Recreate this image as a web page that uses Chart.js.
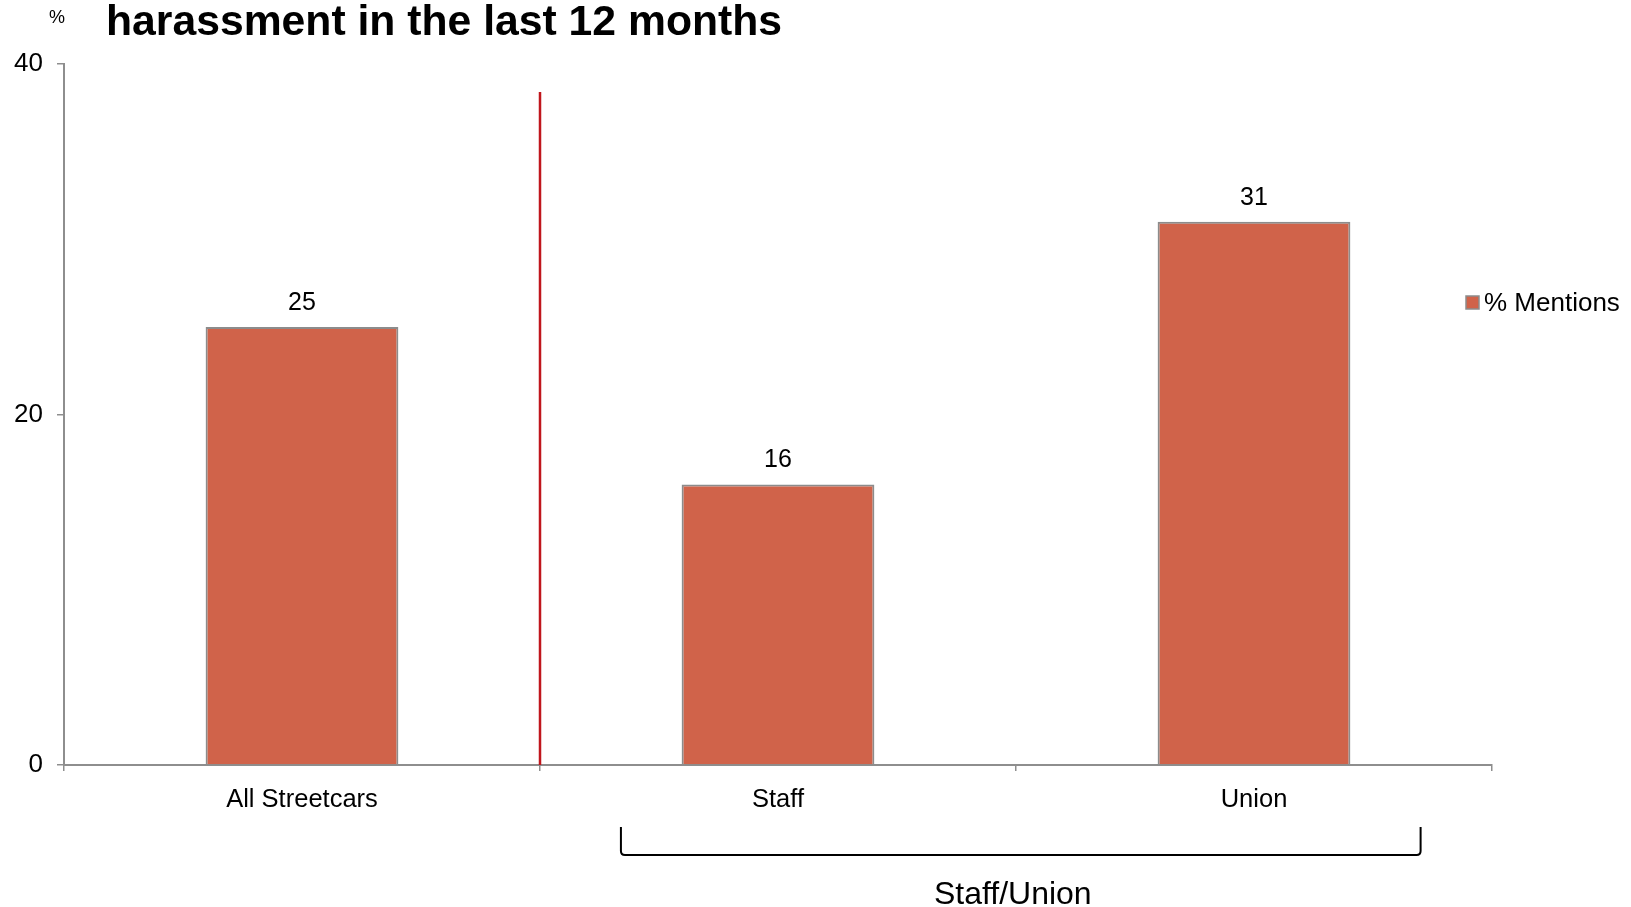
<!DOCTYPE html>
<html>
<head>
<meta charset="utf-8">
<script src="https://cdn.jsdelivr.net/npm/chart.js@4.4.1/dist/chart.umd.min.js"></script>
<style>
  html, body { margin: 0; padding: 0; background: #fff; }
  #wrap { position: relative; width: 1631px; height: 907px; }
</style>
</head>
<body>
<div id="wrap"><canvas id="chart"></canvas></div>
<script>
// categories and values
const categories = ["All Streetcars", "Staff", "Union"];
const mentions = [25, 16, 31];
const seriesLabel = "% Mentions";
const yTicks = [0, 20, 40];
const groupLabel = "Staff/Union";
const titleText = "harassment in the last 12 months";
const dividerTop = 38.4; // top of the red separator, in axis units

const FONT = "'Liberation Sans', Arial, sans-serif";
const BAR_FILL = "#D0634A";
const BAR_EDGE = "#8C8C8C";
const AXIS = "#8E8E8E";

// title, separator, value labels, bracket and legend
const extras = {
  id: "extras",
  afterDraw(chart) {
    const ctx = chart.ctx;
    const x = chart.scales.x;
    const y = chart.scales.y;
    const area = chart.chartArea;
    ctx.save();

    // title
    ctx.fillStyle = "#000";
    ctx.textBaseline = "alphabetic";
    ctx.textAlign = "left";
    ctx.font = "bold 42.7px " + FONT;
    ctx.fillText(titleText, 106, 35);
    ctx.font = "18px " + FONT;
    ctx.textBaseline = "middle";
    ctx.fillText("%", 49, 18);

    // red separator between first and second category
    const sepX = (x.getPixelForValue(0) + x.getPixelForValue(1)) / 2;
    ctx.strokeStyle = "#C0161C";
    ctx.lineWidth = 2.5;
    ctx.beginPath();
    ctx.moveTo(sepX, y.getPixelForValue(dividerTop));
    ctx.lineTo(sepX, y.getPixelForValue(0));
    ctx.stroke();

    // value labels
    ctx.font = "25px " + FONT;
    ctx.textAlign = "center";
    ctx.textBaseline = "middle";
    chart.getDatasetMeta(0).data.forEach((bar, i) => {
      ctx.fillText(String(mentions[i]), bar.x, bar.y - 24);
    });

    // bracket under Staff / Union
    const step = x.getPixelForValue(1) - x.getPixelForValue(0);
    const bl = x.getPixelForValue(1) - 0.33 * step;
    const br = x.getPixelForValue(2) + 0.35 * step;
    const bt = area.bottom + 62, bb = area.bottom + 90, r = 4;
    ctx.strokeStyle = "#000";
    ctx.lineWidth = 2;
    ctx.beginPath();
    ctx.moveTo(bl, bt);
    ctx.lineTo(bl, bb - r);
    ctx.quadraticCurveTo(bl, bb, bl + r, bb);
    ctx.lineTo(br - r, bb);
    ctx.quadraticCurveTo(br, bb, br, bb - r);
    ctx.lineTo(br, bt);
    ctx.stroke();
    ctx.font = "32px " + FONT;
    ctx.fillText(groupLabel, (bl + br) / 2 - 8, area.bottom + 130);

    // legend
    ctx.fillStyle = BAR_FILL;
    ctx.fillRect(1466, 296, 13, 13);
    ctx.strokeStyle = BAR_EDGE;
    ctx.lineWidth = 1.5;
    ctx.strokeRect(1466, 296, 13, 13);
    ctx.fillStyle = "#000";
    ctx.textAlign = "left";
    ctx.font = "26px " + FONT;
    ctx.fillText(seriesLabel, 1484, 304);

    ctx.restore();
  }
};

new Chart(document.getElementById("chart"), {
  type: "bar",
  data: {
    labels: categories,
    datasets: [{
      label: seriesLabel,
      data: mentions,
      backgroundColor: BAR_FILL,
      borderColor: BAR_EDGE,
      borderWidth: 2,
      barPercentage: 0.405,
      categoryPercentage: 1
    }]
  },
  options: {
    responsive: true,
    maintainAspectRatio: false,
    animation: false,
    layout: { padding: { top: 64, right: 139, left: 0, bottom: 0 } },
    plugins: {
      legend: { display: false },
      tooltip: { enabled: false },
      title: { display: false }
    },
    scales: {
      x: {
        offset: true,
        grid: {
          offset: true,
          drawOnChartArea: false,
          color: AXIS,
          tickLength: 6,
          lineWidth: 1.5
        },
        border: { color: AXIS, width: 2 },
        ticks: {
          color: "#000",
          padding: 14,
          font: { family: FONT, size: 25.5 }
        },
        afterFit(scale) { scale.height = 907 - 765; }
      },
      y: {
        min: 0,
        max: 40,
        afterBuildTicks(scale) { scale.ticks = yTicks.map(v => ({ value: v })); },
        grid: {
          drawOnChartArea: false,
          color: AXIS,
          tickLength: 7,
          lineWidth: 1.5
        },
        border: { color: AXIS, width: 2 },
        ticks: {
          color: "#000",
          padding: 14,
          font: { family: FONT, size: 26 }
        },
        afterFit(scale) { scale.width = 64; }
      }
    }
  },
  plugins: [extras]
});
</script>
</body>
</html>
